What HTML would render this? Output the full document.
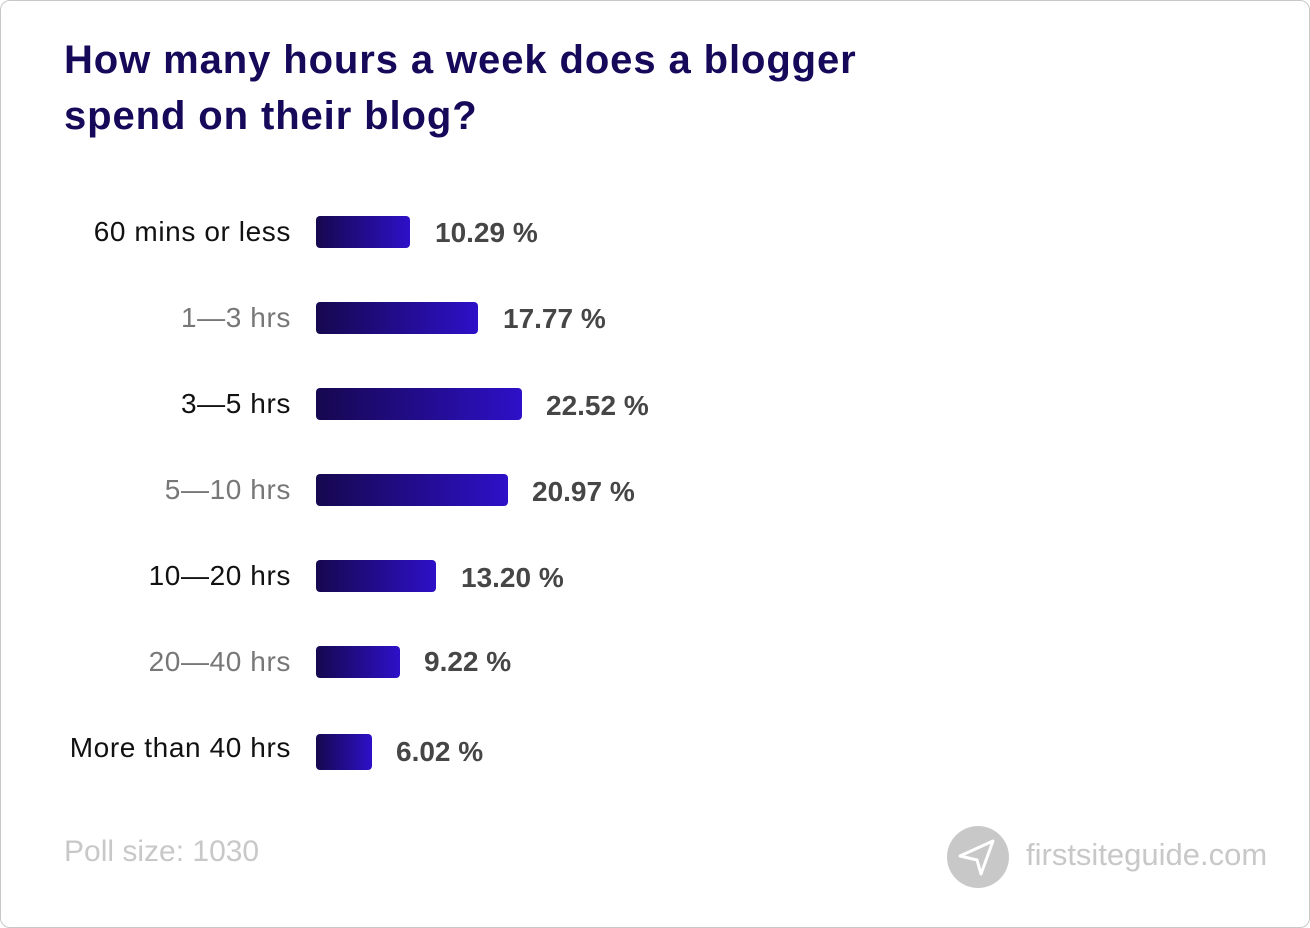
<!DOCTYPE html>
<html><head><style>
body{margin:0;width:1310px;height:928px;background:#fff;font-family:"Liberation Sans",sans-serif;position:relative;overflow:hidden}
.frame{position:absolute;left:0;top:0;width:1308px;height:926px;border:1px solid #c8c8c8;border-radius:10px}
.title{position:absolute;left:64px;top:32px;font-size:40px;font-weight:bold;color:#17095a;line-height:56px;letter-spacing:0.9px}
.lab{position:absolute;right:1019px;font-size:28px;letter-spacing:0.6px;text-align:right;white-space:nowrap;transform:translateY(-50%)}
.bar{position:absolute;left:316px;height:32px;border-radius:4px;background:linear-gradient(90deg,#16084f,#2e10c8);transform:translateY(-50%)}
.val{position:absolute;font-size:28px;font-weight:bold;color:#464646;transform:translateY(-50%);white-space:nowrap}
.foot{position:absolute;font-size:29px;color:#c8c8c8}
</style></head><body>
<div class="frame"></div>
<div class="title">How many hours a week does a blogger<br>spend on their blog?</div>

<div class="lab" style="top:232px;color:#111">60 mins or less</div>
<div class="bar" style="top:232px;width:94px"></div><div class="val" style="top:233px;left:435px">10.29 %</div>

<div class="lab" style="top:318px;color:#777">1—3 hrs</div>
<div class="bar" style="top:318px;width:162px"></div><div class="val" style="top:319px;left:503px">17.77 %</div>

<div class="lab" style="top:404px;color:#111">3—5 hrs</div>
<div class="bar" style="top:404px;width:206px"></div><div class="val" style="top:406px;left:546px">22.52 %</div>

<div class="lab" style="top:490px;color:#777">5—10 hrs</div>
<div class="bar" style="top:490px;width:192px"></div><div class="val" style="top:492px;left:532px">20.97 %</div>

<div class="lab" style="top:576px;color:#111">10—20 hrs</div>
<div class="bar" style="top:576px;width:120px"></div><div class="val" style="top:578px;left:461px">13.20 %</div>

<div class="lab" style="top:662px;color:#777">20—40 hrs</div>
<div class="bar" style="top:662px;width:84px"></div><div class="val" style="top:662px;left:424px">9.22 %</div>

<div class="lab" style="top:748px;color:#111">More than 40 hrs</div>
<div class="bar" style="top:752px;width:56px;height:36px"></div><div class="val" style="top:752px;left:396px">6.02 %</div>

<div class="foot" style="left:64px;top:835px;font-size:30px">Poll size: 1030</div>
<svg style="position:absolute;left:946px;top:825px" width="64" height="64" viewBox="0 0 64 64">
<circle cx="32" cy="32" r="31" fill="#c8c8c8"/>
<path d="M14 31 L47 16 L35 49 L31 35 Z" fill="none" stroke="#fff" stroke-width="3" stroke-linejoin="round"/>
</svg>
<div class="foot" style="left:1026px;top:837px;font-size:31px">firstsiteguide.com</div>
</body></html>
